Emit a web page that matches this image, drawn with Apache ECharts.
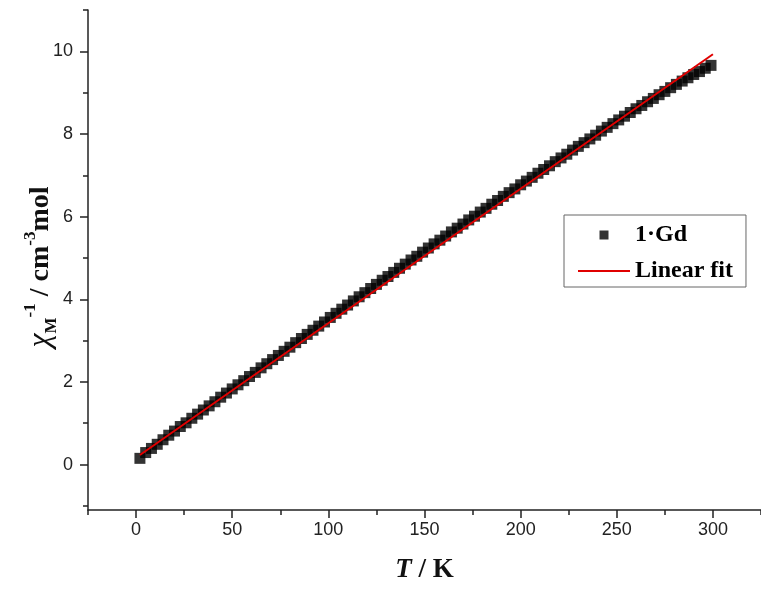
<!DOCTYPE html>
<html>
<head>
<meta charset="utf-8">
<script src="https://cdn.jsdelivr.net/npm/echarts@6/dist/echarts.min.js"></script>
<style>
  html, body { margin: 0; padding: 0; background: #fff; }
  #chart { width: 761px; height: 590px; }
</style>
</head>
<body>
<div id="chart"></div>
<script>
// measured 1/chi vs T
const temps = [
  2, 5, 8, 11, 14, 17, 20, 23, 26, 29,
  32, 35, 38, 41, 44, 47, 50, 53, 56, 59,
  62, 65, 68, 71, 74, 77, 80, 83, 86, 89,
  92, 95, 98, 101, 104, 107, 110, 113, 116, 119,
  122, 125, 128, 131, 134, 137, 140, 143, 146, 149,
  152, 155, 158, 161, 164, 167, 170, 173, 176, 179,
  182, 185, 188, 191, 194, 197, 200, 203, 206, 209,
  212, 215, 218, 221, 224, 227, 230, 233, 236, 239,
  242, 245, 248, 251, 254, 257, 260, 263, 266, 269,
  272, 275, 278, 281, 284, 287, 290, 293, 296, 299
]
const chiInv = [
  0.15, 0.29, 0.39, 0.49, 0.60, 0.71, 0.81, 0.92, 1.01, 1.12,
  1.22, 1.32, 1.42, 1.52, 1.63, 1.73, 1.83, 1.93, 2.03, 2.13,
  2.23, 2.34, 2.44, 2.54, 2.64, 2.74, 2.84, 2.95, 3.05, 3.15,
  3.25, 3.35, 3.45, 3.56, 3.66, 3.76, 3.86, 3.96, 4.06, 4.16,
  4.26, 4.36, 4.46, 4.55, 4.65, 4.75, 4.85, 4.95, 5.04, 5.14,
  5.24, 5.34, 5.43, 5.53, 5.63, 5.72, 5.82, 5.92, 6.01, 6.11,
  6.20, 6.30, 6.39, 6.49, 6.58, 6.67, 6.77, 6.86, 6.95, 7.05,
  7.14, 7.23, 7.33, 7.42, 7.51, 7.61, 7.70, 7.79, 7.88, 7.97,
  8.07, 8.16, 8.25, 8.34, 8.43, 8.52, 8.61, 8.69, 8.78, 8.86,
  8.95, 9.03, 9.12, 9.20, 9.28, 9.36, 9.44, 9.51, 9.59, 9.66
]

// linear fit end points
const fitT = [2, 300]
const fitChi = [0.23, 9.93]

// ticks
const xMajor = [0, 50, 100, 150, 200, 250, 300]
const xMinor = [-25, 25, 75, 125, 175, 225, 275, 325]
const yMajor = [0, 2, 4, 6, 8, 10]
const yMinor = [-1, 1, 3, 5, 7, 9, 11]

const seriesNames = ['1·Gd', 'Linear fit']

const axisColor = '#222'
const serif = '"Liberation Serif", "Times New Roman", serif'
const sans = '"Liberation Sans", Arial, sans-serif'

const chart = echarts.init(document.getElementById('chart'))

const option = {
  animation: false,
  backgroundColor: '#fff',
  grid: { left: 88, right: 0, top: 10, bottom: 80, containLabel: false, outerBoundsMode: 'none' },
  legend: {
    orient: 'vertical',
    left: 564,
    top: 215,
    itemWidth: 52,
    itemHeight: 10,
    itemGap: 12,
    padding: [8, 13, 4, 14],
    borderColor: '#666',
    borderWidth: 1,
    textStyle: { fontFamily: serif, fontWeight: 'bold', fontSize: 24, color: '#000' },
    data: [
      { name: seriesNames[0], icon: 'path://M0,0M52,10M21.5,0.5L30.5,0.5L30.5,9.5L21.5,9.5Z' },
      { name: seriesNames[1], icon: 'path://M0,0M52,10M0,4.1L52,4.1L52,5.9L0,5.9Z' }
    ]
  },
  xAxis: [
    {
      type: 'value',
      min: -25,
      max: 325,
      position: 'bottom',
      name: '{it|T}{b| / K}',
      nameLocation: 'middle',
      nameGap: 47,
      nameTextStyle: {
        rich: {
          it: { fontFamily: serif, fontStyle: 'italic', fontWeight: 'bold', fontSize: 27, color: '#111' },
          b: { fontFamily: serif, fontWeight: 'bold', fontSize: 27, color: '#111' }
        }
      },
      axisLine: { show: true, onZero: false, lineStyle: { color: axisColor, width: 1.5 } },
      axisTick: { show: true, customValues: xMajor, length: 8, lineStyle: { color: axisColor, width: 1.5 } },
      axisLabel: { customValues: xMajor, margin: 11, fontFamily: sans, fontSize: 18, color: '#222' },
      splitLine: { show: false }
    },
    {
      type: 'value',
      min: -25,
      max: 325,
      position: 'bottom',
      axisLine: { show: false, onZero: false },
      axisTick: { show: true, customValues: xMinor, length: 5, lineStyle: { color: axisColor, width: 1.5 } },
      axisLabel: { show: false },
      splitLine: { show: false }
    }
  ],
  yAxis: [
    {
      type: 'value',
      min: -1.1,
      max: 11,
      position: 'left',
      name: '{chi|χ}{sub|M}{sup|-1}{b| / cm}{sup|-3}{b|mol}',
      nameLocation: 'middle',
      nameGap: 28,
      nameMoveOverlap: false,
      nameTextStyle: {
        padding: [0, 14, 0, 0],
        rich: {
          chi: { fontFamily: serif, fontStyle: 'italic', fontSize: 32, color: '#111', lineHeight: 38 },
          sub: { fontFamily: serif, fontWeight: 'bold', fontSize: 17, color: '#111', verticalAlign: 'bottom', lineHeight: 16 },
          sup: { fontFamily: serif, fontWeight: 'bold', fontSize: 17, color: '#111', verticalAlign: 'top', lineHeight: 16 },
          b: { fontFamily: serif, fontWeight: 'bold', fontSize: 28, color: '#111', lineHeight: 38 }
        }
      },
      axisLine: { show: true, onZero: false, lineStyle: { color: axisColor, width: 1.5 } },
      axisTick: { show: true, customValues: yMajor, length: 8, lineStyle: { color: axisColor, width: 1.5 } },
      axisLabel: { customValues: yMajor, margin: 15, fontFamily: sans, fontSize: 18, color: '#222' },
      splitLine: { show: false }
    },
    {
      type: 'value',
      min: -1.1,
      max: 11,
      position: 'left',
      axisLine: { show: false, onZero: false },
      axisTick: { show: true, customValues: yMinor, length: 5, lineStyle: { color: axisColor, width: 1.5 } },
      axisLabel: { show: false },
      splitLine: { show: false }
    }
  ],
  series: [
    {
      name: seriesNames[0],
      type: 'scatter',
      symbol: 'rect',
      symbolSize: 11,
      itemStyle: { color: '#000' },
      data: temps.map((t, i) => [t, chiInv[i]])
    },
    {
      name: seriesNames[1],
      type: 'line',
      symbol: 'none',
      lineStyle: { color: '#e00000', width: 2 },
      itemStyle: { color: '#e00000' },
      data: fitT.map((t, i) => [t, fitChi[i]]),
      z: 3
    }
  ]
}

chart.setOption(option)
window.addEventListener('resize', () => chart.resize())
</script>
</body>
</html>
